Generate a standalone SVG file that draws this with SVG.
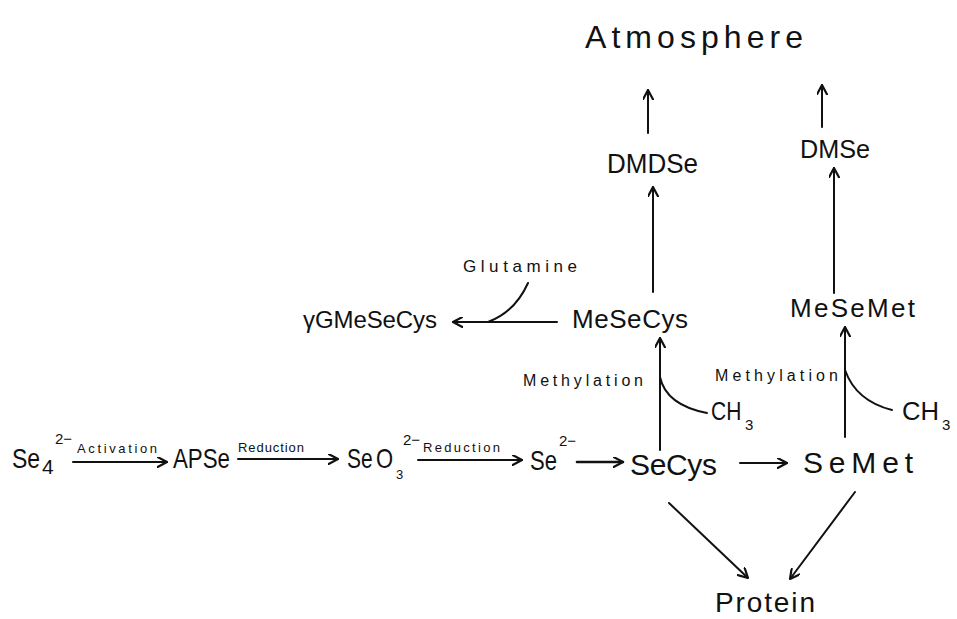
<svg xmlns="http://www.w3.org/2000/svg" width="957" height="619" viewBox="0 0 957 619">
<defs>
<style>
text{font-family:"Liberation Sans",Arial,sans-serif;fill:#111}
.s{font-size:13px}
.sup{font-size:15px}
.e{stroke:#111;stroke-width:2;fill:none;stroke-linecap:round}
.a{marker-end:url(#ah)}
</style>
<marker id="ah" markerUnits="userSpaceOnUse" viewBox="0 0 10 10" refX="9.5" refY="5" markerWidth="11" markerHeight="11" orient="auto">
<path d="M1,0.5 L9.5,5 L1,9.5" fill="none" stroke="#111" stroke-width="2" stroke-linecap="round" stroke-linejoin="round"/>
</marker>
</defs>
<rect width="957" height="619" fill="#fff"/>

<g id="connectors">
<line class="e a" x1="73" y1="462" x2="167" y2="462"/>
<line class="e a" x1="238" y1="459" x2="338" y2="459"/>
<line class="e a" x1="418" y1="460" x2="522" y2="460"/>
<line class="e a" x1="577" y1="462" x2="623" y2="462" style="stroke-width:2.6"/>
<line class="e a" x1="740" y1="463" x2="787" y2="463"/>
<line class="e a" x1="660" y1="450" x2="660" y2="338"/>
<path class="e" d="M660,377 Q666,405 707,413"/>
<line class="e a" x1="845" y1="437" x2="845" y2="327"/>
<path class="e" d="M845,370 Q856,401 892,410"/>
<line class="e a" x1="653" y1="292" x2="653" y2="187"/>
<line class="e a" x1="834" y1="293" x2="834" y2="168"/>
<line class="e a" x1="648" y1="133" x2="648" y2="90"/>
<line class="e a" x1="822" y1="127" x2="822" y2="85"/>
<line class="e a" x1="557" y1="322" x2="453" y2="322"/>
<path class="e" d="M528,283 Q515,312 488,322"/>
<line class="e a" x1="669" y1="503" x2="748" y2="578"/>
<line class="e a" x1="855" y1="492" x2="790" y2="579"/>
</g>

<g id="atmosphere"><text x="585" y="48" style="font-size:32px" textLength="218" lengthAdjust="spacing">Atmosphere</text></g>
<g id="dmdse"><text x="607" y="173" style="font-size:27px" textLength="91" lengthAdjust="spacingAndGlyphs">DMDSe</text></g>
<g id="dmse"><text x="800" y="158" style="font-size:26px" textLength="70" lengthAdjust="spacingAndGlyphs">DMSe</text></g>
<g id="mesecys"><text x="572" y="328" style="font-size:26px" textLength="116" lengthAdjust="spacing">MeSeCys</text></g>
<g id="mesemet"><text x="790" y="317" style="font-size:26px" textLength="125" lengthAdjust="spacing">MeSeMet</text></g>
<g id="ygmesecys"><text x="303" y="328" style="font-size:24px" textLength="134" lengthAdjust="spacing">γGMeSeCys</text></g>
<g id="glutamine"><text x="463" y="272" style="font-size:17px" textLength="114" lengthAdjust="spacing">Glutamine</text></g>
<g id="methylation-left"><text x="523" y="386" style="font-size:16px" textLength="120" lengthAdjust="spacing">Methylation</text></g>
<g id="methylation-right"><text x="715" y="381" style="font-size:16px" textLength="123" lengthAdjust="spacing">Methylation</text></g>
<g id="ch3-left"><text transform="translate(711,420) scale(1,1.24)" style="font-size:21px">CH</text><text x="745" y="430" style="font-size:15px">3</text></g>
<g id="ch3-right"><text x="902" y="420" style="font-size:26px" textLength="37" lengthAdjust="spacingAndGlyphs">CH</text><text x="942" y="430" style="font-size:15px">3</text></g>

<g id="seo4">
<text transform="translate(12,468) scale(1,1.22)" style="font-size:23px">Se</text>
<text x="42" y="474" style="font-size:21px">4</text>
<text class="sup" x="55" y="444">2−</text>
</g>
<g id="label-activation"><text class="s" x="77" y="453" textLength="80" lengthAdjust="spacing">Activation</text></g>
<g id="apse"><text x="173" y="468" style="font-size:28px" textLength="57" lengthAdjust="spacingAndGlyphs">APSe</text></g>
<g id="label-reduction1"><text class="s" x="238" y="452" textLength="66" lengthAdjust="spacing">Reduction</text></g>
<g id="seo3">
<text transform="translate(347,468) scale(1,1.32)" style="font-size:21px">Se</text>
<text transform="translate(376,468) scale(1,1.27)" style="font-size:22px">O</text>
<text x="396" y="479" style="font-size:13px">3</text>
<text class="sup" x="403" y="445">2−</text>
</g>
<g id="label-reduction2"><text class="s" x="423" y="452" textLength="77" lengthAdjust="spacing">Reduction</text></g>
<g id="se2">
<text x="530" y="470" style="font-size:28px" textLength="27" lengthAdjust="spacingAndGlyphs">Se</text>
<text class="sup" x="559" y="446">2−</text>
</g>
<g id="secys"><text x="630" y="475" style="font-size:30px" textLength="87" lengthAdjust="spacing">SeCys</text></g>
<g id="semet"><text x="803" y="473" style="font-size:30px" textLength="110" lengthAdjust="spacing">SeMet</text></g>
<g id="protein"><text x="715" y="612" style="font-size:28px" textLength="100" lengthAdjust="spacing">Protein</text></g>
</svg>
